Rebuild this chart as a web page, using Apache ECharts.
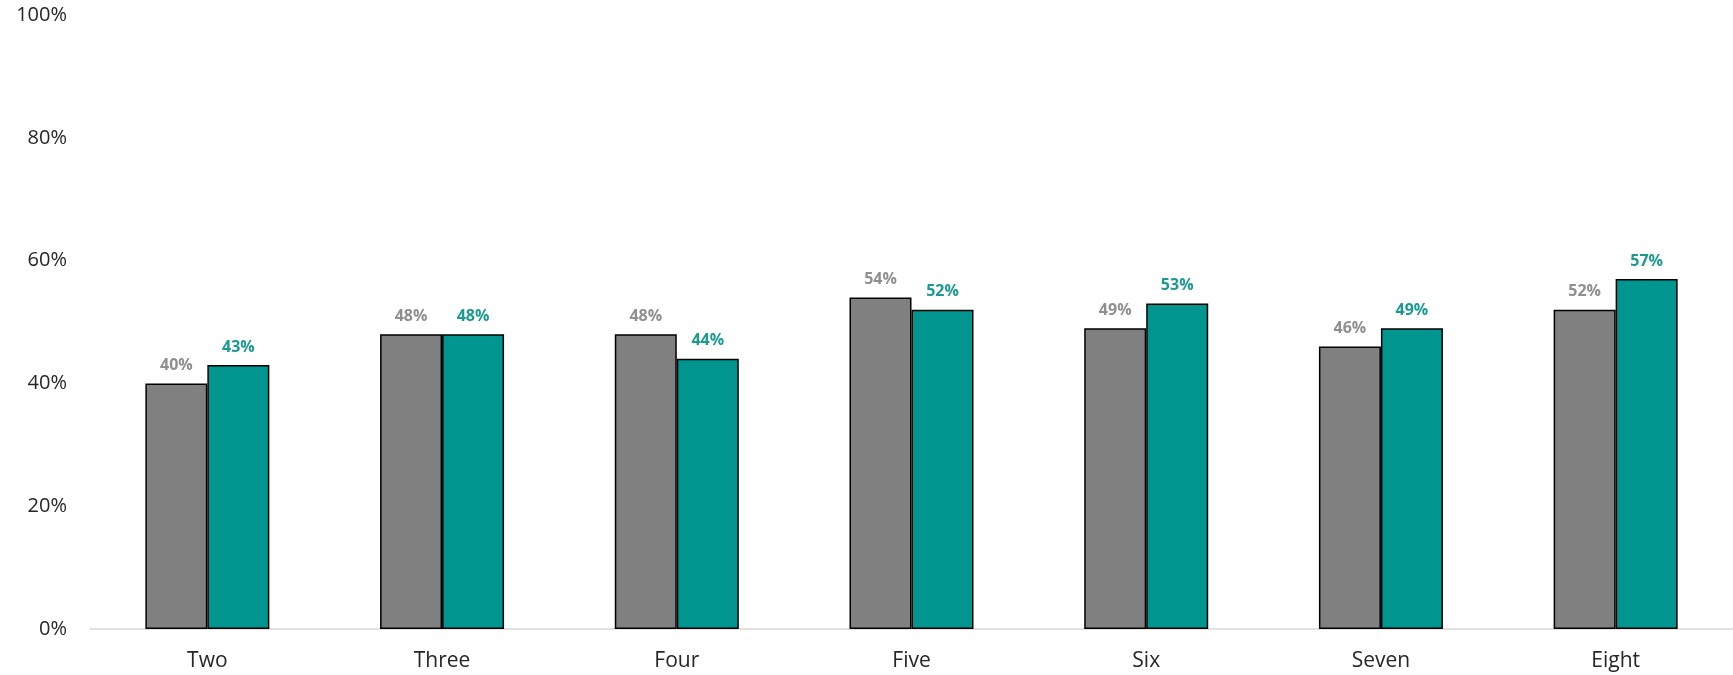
<!DOCTYPE html>
<html><head><meta charset="utf-8">
<script src="https://cdn.jsdelivr.net/npm/echarts@6/dist/echarts.min.js"></script>
<style>html,body{margin:0;padding:0;background:#fff}#c{width:1733px;height:675px}</style>
</head><body><div id="c"></div>
<script>
const categories = ["Two","Three","Four","Five","Six","Seven","Eight"];
const seriesA = [40,48,48,54,49,46,52];
const seriesB = [43,48,44,52,53,49,57];
const yTicks = [0,20,40,60,80,100];

const chart = echarts.init(document.getElementById('c'));
const font = "'Open Sans', 'Noto Sans', sans-serif";
chart.setOption({
  animation:false,
  grid:{left:90,right:0,top:15,bottom:46,containLabel:false},
  xAxis:{type:'category',data:categories,
    axisLine:{lineStyle:{color:'#d9d9d9',width:1.5}},axisTick:{show:false},
    axisLabel:{color:'#262626',fontSize:21,fontFamily:font,margin:22}},
  yAxis:{type:'value',min:0,max:100,interval:20,splitLine:{show:false},
    axisLine:{show:false},axisTick:{show:false},
    axisLabel:{color:'#262626',fontSize:20,fontFamily:font,margin:23,formatter:v=>v+'%'}},
  series:[
    {type:'bar',data:seriesA,barWidth:62,barGap:'0%',
     itemStyle:{color:'#808080',borderColor:'#000',borderWidth:1.5},
     label:{show:true,position:'top',distance:10,color:'#8f8f8f',fontWeight:'bold',fontSize:16,fontFamily:font,formatter:p=>p.value+'%'}},
    {type:'bar',data:seriesB,barWidth:62,barGap:'0%',
     itemStyle:{color:'#00968f',borderColor:'#000',borderWidth:1.5},
     label:{show:true,position:'top',distance:10,color:'#1a9a90',fontWeight:'bold',fontSize:16,fontFamily:font,formatter:p=>p.value+'%'}}
  ]
});
</script></body></html>
